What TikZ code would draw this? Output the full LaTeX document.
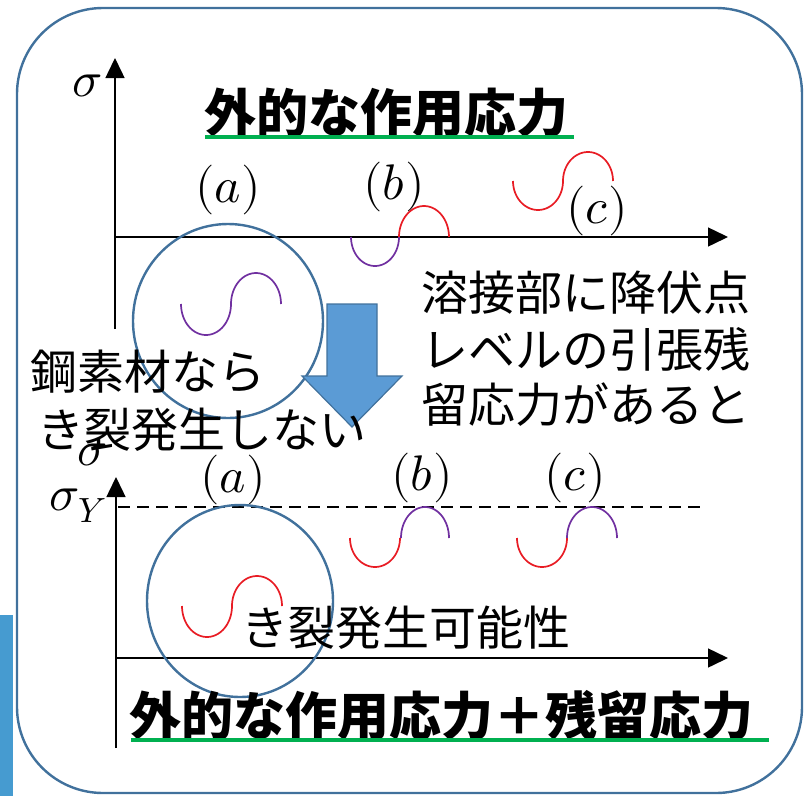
\documentclass[tikz,border=0pt]{standalone}
\usepackage{fontspec}
\usepackage{unicode-math}
\setmathfont{Latin Modern Math}
\usetikzlibrary{arrows.meta}
\newfontfamily\jp{Noto Sans CJK JP}
\definecolor{boxblue}{RGB}{65,113,156}
\definecolor{arrowfill}{RGB}{91,155,213}
\definecolor{stripblue}{RGB}{70,155,208}
\definecolor{ulgreen}{RGB}{0,176,80}
\definecolor{cred}{RGB}{232,28,36}
\definecolor{cpurple}{RGB}{112,48,160}
\tikzset{
  axis/.style={line width=1.5pt, -{Triangle[length=20pt,width=19pt]}},
  lbl/.style={inner sep=0pt, font=\fontsize{50}{50}\selectfont},
  jptext/.style={inner sep=0pt, anchor=west, font=\jp\fontsize{47}{47}\selectfont},
  jptitle/.style={inner sep=0pt, anchor=west, font=\jp\bfseries\fontsize{52}{52}\selectfont},
  ul/.style={ulgreen, line width=4pt},
  ring/.style={boxblue, line width=2.4pt},
  wave/.style={line width=1.7pt},
}
\begin{document}
\begin{tikzpicture}[x=1pt,y=-1pt]
\useasboundingbox (0,0) rectangle (804,796);
% blue strip at left
\fill[stripblue] (0,615) rectangle (13,796);
% outer rounded box
\draw[boxblue, line width=2.4pt, rounded corners=86pt] (17,8) rectangle (802,793);

% ---------- upper chart ----------
\coordinate (uo) at (115,237);
\coordinate (uy) at (115,58);
\coordinate (ux) at (728,237);
\coordinate (ub) at (115,329);
\draw[axis] (ub) -- (uy);
\draw[axis] (uo) -- (ux);
\node[lbl] (sig1) at (87,86) {$\sigma$};
\node[jptitle] (title1) at (204,113) {外的な作用応力};
\draw[ul] (205,137) -- (574,137);
\node[lbl] (a1) at (228,190) {$(a)$};
\node[lbl] (b1) at (394,187) {$(b)$};
\node[lbl] (c1) at (597,211) {$(c)$};

% upper circle
\draw[ring] (228,321) ellipse [x radius=95, y radius=97];
% waves upper
\draw[wave, cpurple] plot[domain=180:0, samples=40] ({206+25*cos(\x)},{304+31*sin(\x)});
\draw[wave, cpurple] plot[domain=180:360, samples=40] ({256+25*cos(\x)},{304+31*sin(\x)});
\draw[wave, cpurple] plot[domain=180:0, samples=40] ({375+24*cos(\x)},{237+29*sin(\x)});
\draw[wave, cred] plot[domain=180:360, samples=40] ({424+25*cos(\x)},{237+31*sin(\x)});
\draw[wave, cred] plot[domain=180:0, samples=40] ({538+25*cos(\x)},{181+29*sin(\x)});
\draw[wave, cred] plot[domain=180:360, samples=40] ({588+25*cos(\x)},{181+29*sin(\x)});

% big arrow
\draw[boxblue, fill=arrowfill, line width=1.2pt, line join=miter]
  (327,304) -- (377,304) -- (377,376) -- (402,376) -- (352,427) -- (302,376) -- (327,376) -- cycle;

% texts
\node[jptext] (t1) at (421,293) {溶接部に降伏点};
\node[jptext] (t2) at (421,349) {レベルの引張残};
\node[jptext] (t3) at (421,405) {留応力があると};
\node[jptext] (s1) at (30,372) {鋼素材なら};
\node[jptext] (s2) at (37,430) {き裂発生しない};

% ---------- lower chart ----------
\coordinate (lo) at (116,658);
\coordinate (ly) at (116,477);
\coordinate (lx) at (728,658);
\coordinate (lb) at (116,748);
\coordinate (dy0) at (118,507);
\coordinate (dy1) at (706,507);
\draw[axis] (lb) -- (ly);
\draw[axis] (lo) -- (lx);
\draw[line width=2.4pt, dash pattern=on 12pt off 7pt] (dy0) -- (dy1);
\node[lbl] (sig2) at (92,455) {$\sigma$};
\node[lbl] (sigY) at (78,506) {$\sigma_Y$};
\node[lbl] (a2) at (233,480) {$(a)$};
\node[lbl] (b2) at (422,478) {$(b)$};
\node[lbl] (c2) at (575,478) {$(c)$};

\draw[ring] (240,601) ellipse [x radius=93, y radius=96];
\draw[wave, cred] plot[domain=180:0, samples=40] ({207+25*cos(\x)},{606+31*sin(\x)});
\draw[wave, cred] plot[domain=180:360, samples=40] ({257+25*cos(\x)},{606+30*sin(\x)});
\draw[wave, cred] plot[domain=180:0, samples=40] ({375+25*cos(\x)},{538+29*sin(\x)});
\draw[wave, cpurple] plot[domain=180:360, samples=40] ({425+24*cos(\x)},{538+31*sin(\x)});
\draw[wave, cred] plot[domain=180:0, samples=40] ({542+25*cos(\x)},{538+29*sin(\x)});
\draw[wave, cpurple] plot[domain=180:360, samples=40] ({592+25*cos(\x)},{538+31*sin(\x)});

\node[jptext] (t4) at (241,628) {き裂発生可能性};
\node[jptitle] (title2) at (129,716) {外的な作用応力＋残留応力};
\draw[ul] (131,740) -- (769,740);
\end{tikzpicture}
\end{document}
